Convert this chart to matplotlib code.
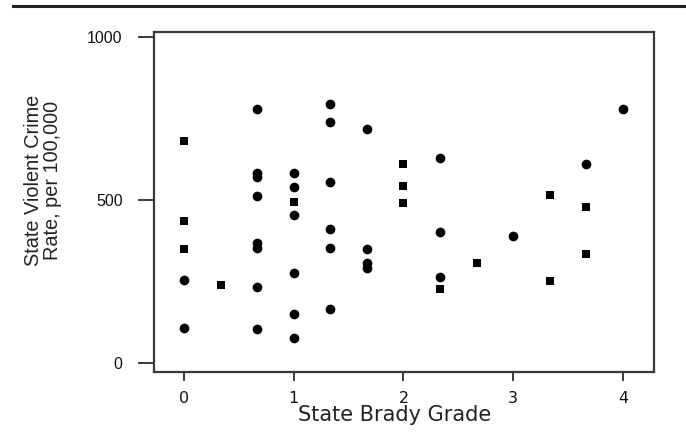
import matplotlib
matplotlib.use("Agg")
import matplotlib.pyplot as plt
from matplotlib.lines import Line2D

# Data: state Brady grade (x) vs violent crime rate per 100,000 (y)
sq_grade = [0, 0, 0, 0.333, 1, 2, 2, 2, 2.333, 2.667, 3.333, 3.333, 3.667, 3.667]
sq_rate = [681, 436, 349, 239, 495, 609, 543, 492, 228, 306, 516, 252, 480, 333]

ci_grade = [0, 0,
            0.667, 0.667, 0.667, 0.667, 0.667, 0.667, 0.667, 0.667,
            1, 1, 1, 1, 1, 1,
            1.333, 1.333, 1.333, 1.333, 1.333, 1.333,
            1.667, 1.667, 1.667, 1.667,
            2.333, 2.333, 2.333,
            3, 3.667, 4]
ci_rate = [255, 108,
           778, 582, 572, 513, 369, 352, 232, 103,
           584, 541, 454, 277, 150, 76,
           795, 740, 556, 410, 354, 167,
           718, 350, 306, 290,
           630, 403, 265,
           390, 610, 778]

xticks = [0, 1, 2, 3, 4]
yticks = [0, 500, 1000]
xlabel = "State Brady Grade"
ylabel = "State Violent Crime\nRate, per 100,000"

W, H = 686, 434
fig = plt.figure(figsize=(W / 100, H / 100), dpi=100)
fig.patch.set_facecolor("white")

L, R, T, B = 154, 654, 32, 372
ax = fig.add_axes([L / W, 1 - B / H, (R - L) / W, (B - T) / H])

ax.plot(ci_grade, ci_rate, linestyle="none", marker="o", markersize=7,
        color="black", markeredgewidth=0)
ax.plot(sq_grade, sq_rate, linestyle="none", marker="s", markersize=5.6,
        color="black", markeredgewidth=0)

ax.set_xlim(-0.273, 4.283)
ax.set_ylim(-27.6, 1015.3)
ax.set_xticks(xticks)
ax.set_yticks(yticks)

spine_col = "#3a3a3a"
for s in ax.spines.values():
    s.set_linewidth(1.6)
    s.set_color(spine_col)

ax.tick_params(axis="y", direction="out", length=11.5, width=1.4, color=spine_col,
               pad=11, labelsize=11.5)
ax.tick_params(axis="x", direction="out", length=6.5, width=1.4, color=spine_col,
               pad=7, labelsize=11.5)
for lbl in ax.get_yticklabels():
    lbl.set_fontfamily("Liberation Sans")
    lbl.set_color("#111111")
for lbl in ax.get_xticklabels():
    lbl.set_fontfamily("DejaVu Sans")
    lbl.set_color("#111111")

fig.text(395 / W, 1 - 415 / H, xlabel, ha="center", va="center",
         fontsize=15, family="DejaVu Sans", color="#222222")
fig.text(43 / W, 1 - 180 / H, ylabel, ha="center", va="center",
         rotation=90, multialignment="center", fontsize=14.3,
         family="Liberation Sans", color="#222222", linespacing=1.05)

# top rule
fig.add_artist(Line2D([13 / W, 1.0], [1 - 6 / H, 1 - 6 / H],
                      transform=fig.transFigure, color="#222222", linewidth=2.2))

fig.savefig("out.png", dpi=100)
